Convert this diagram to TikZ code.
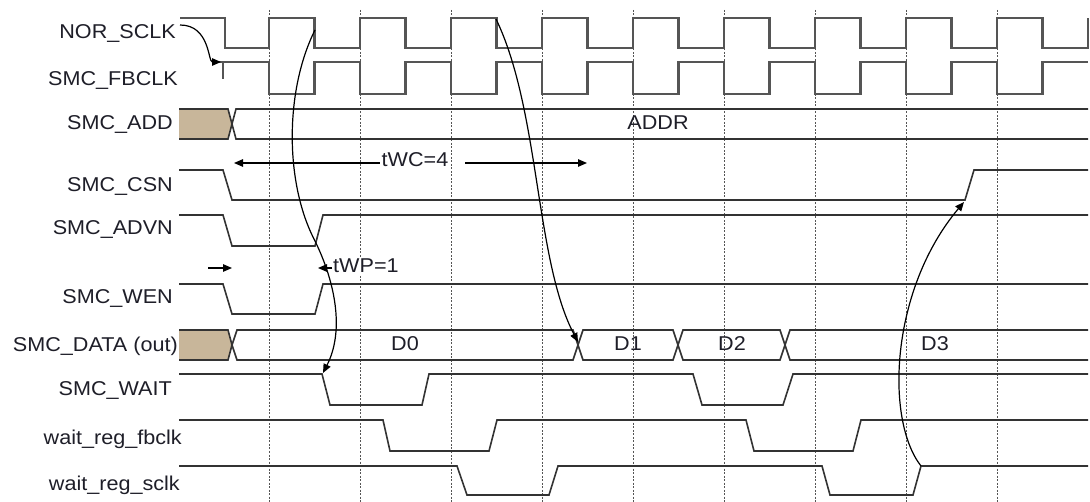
\documentclass[tikz,border=0pt]{standalone}
\usepackage{fontspec}
\newfontfamily\wavefont{Liberation Sans}[FakeStretch=1.08]
\usepackage{xcolor}
\usepackage{tikz}
\usetikzlibrary{arrows.meta,calc}
\definecolor{WaveGray}{HTML}{333333}
\definecolor{ClockGray}{HTML}{555555}
\definecolor{GridGray}{HTML}{555555}
\definecolor{InvalidTan}{HTML}{C8B69A}
\definecolor{LabelInk}{HTML}{1E1E28}
\tikzset{
  % Signal names
  SN/.style={anchor=base east,inner sep=0pt,text=LabelInk,
             font=\wavefont\fontsize{20}{22}\selectfont},
  % Bus values
  BV/.style={anchor=base,inner sep=0pt,text=LabelInk,
             font=\wavefont\fontsize{20}{22}\selectfont},
  % Timing notes
  TN/.style={inner sep=1.5pt,fill=white,text=LabelInk,
             font=\wavefont\fontsize{20}{22}\selectfont},
  % Waveforms
  wv/.style={line width=1.6pt,draw=WaveGray},
  ck/.style={line width=2.4pt,draw=ClockGray},
  cyc/.style={line width=0.9pt,draw=GridGray,dash pattern=on 2pt off 1.5pt},
  % Arrow
  arr/.style={-{Triangle[length=9pt,width=7.5pt]},line width=1.2pt,draw=black}
}

\begin{document}
\begin{tikzpicture}[x=1pt,y=-1pt]
  \useasboundingbox (0,0) rectangle (1090,502);
  % cycle grid
  \foreach \x in {269,360,...,997}
    \draw[cyc] (\x,10) -- (\x,502);
  % clocks
  \draw[ck] (180,18) -- (225,18) -- (225,48) -- (269,48)
    \foreach \x in {269,360,...,997}{ -- (\x,18) -- (\x+45.5,18) -- (\x+45.5,48) -- (\x+91,48)} -- (1088,18);
  \draw[ck] (213,62)
    \foreach \x in {269,360,...,997}{ -- (\x,62) -- (\x,94) -- (\x+45.5,94) -- (\x+45.5,62)} -- (1088,62);
  \draw[ck,line width=1.4pt] (223,62) -- (223,79);
  % address bus
  \fill[InvalidTan] (179,109) -- (228,109) -- (232,124) -- (228,139) -- (179,139) -- cycle;
  \draw[wv] (179,109) -- (228,109) -- (232,124) -- (228,139) -- (179,139);
  \draw[wv] (1088,109) -- (236,109) -- (232,124) -- (236,139) -- (1088,139);
  % control lines
  \draw[wv] (179,170) -- (223,170) -- (232,200) -- (965,200) -- (974,170) -- (1088,170);
  \draw[wv] (179,215) -- (223,215) -- (232,246) -- (315,246) -- (323,215) -- (1088,215);
  \draw[wv] (179,284) -- (223,284) -- (232,314) -- (315,314) -- (323,284) -- (1088,284);
  % data bus
  \fill[InvalidTan] (179,330) -- (228,330) -- (232,345) -- (228,360) -- (179,360) -- cycle;
  \draw[wv] (179,330) -- (228,330) -- (232,345) -- (228,360) -- (179,360);
  \foreach \a/\b in {232/578,578/678,678/785}
    \draw[wv] (\a+5,330) -- (\b-5,330) -- (\b,345) -- (\b-5,360) -- (\a+5,360) -- (\a,345) -- cycle;
  \draw[wv] (1088,330) -- (790,330) -- (785,345) -- (790,360) -- (1088,360);
  % wait lines
  \draw[wv] (179,374) -- (322,374) -- (330,405) -- (422,405) -- (429,374) -- (693,374)
    -- (702,405) -- (783,405) -- (793,374) -- (1088,374);
  \draw[wv] (179,420) -- (383,420) -- (390,451) -- (489,451) -- (497,420) -- (746,420)
    -- (754,451) -- (853,451) -- (861,420) -- (1088,420);
  \draw[wv] (179,466) -- (457,466) -- (467,495) -- (549,495) -- (558,466) -- (822,466)
    -- (830,495) -- (913,495) -- (921,466) -- (1088,466);
  % signal names
  \node[SN] (norsclk) at (176,39) {NOR\_SCLK};
  \node[SN] (fbclk) at (178,86) {SMC\_FBCLK};
  \node[SN] (smcadd) at (173,130) {SMC\_ADD};
  \node[SN] (smccsn) at (173,192) {SMC\_CSN};
  \node[SN] (smcadvn) at (173,235) {SMC\_ADVN};
  \node[SN] (smcwen) at (173,304) {SMC\_WEN};
  \node[SN] (smcdata) at (178,352) {SMC\_DATA (out)};
  \node[SN] (smcwait) at (172,396) {SMC\_WAIT};
  \node[SN] (regfb) at (182,445) {wait\_reg\_fbclk};
  \node[SN] (regsclk) at (180,490) {wait\_reg\_sclk};
  % bus values
  \node[BV] (addr) at (658,130) {ADDR};
  \node[BV] (d0) at (405,351) {D0};
  \node[BV] (d1) at (628,351) {D1};
  \node[BV] (d2) at (732,351) {D2};
  \node[BV] (d3) at (935,351) {D3};
  % timing notes
  \coordinate (twcL) at (234,163);
  \coordinate (twcS) at (465,163);
  \coordinate (twcR) at (587,163);
  \node[TN,anchor=base] (twc) at (415,167) {tWC=4};
  \draw[arr] (twc.west |- twcL) -- (twcL);
  \draw[arr] (twcS) -- (twcR);
  \coordinate (twpA) at (208,268);
  \coordinate (twpB) at (232,268);
  \coordinate (twpC) at (318,268);
  \node[TN,anchor=base west,inner sep=1pt] (twp) at (332,273) {tWP=1};
  \draw[arr] (twpA) -- (twpB);
  \draw[arr] (twp.west |- twpC) -- (twpC);
  % edge dependencies
  \coordinate (sclkTag) at (180,25);
  \coordinate (fbStart) at (221,62);
  \coordinate (sclkF1) at (315,30);
  \coordinate (waitF) at (323,373);
  \coordinate (sclkF3) at (496,19);
  \coordinate (dataX) at (578,342);
  \coordinate (regR) at (921,466);
  \coordinate (csnR) at (964,202);
  \draw[arr] (sclkTag) .. controls (210,25) and (208,62) .. (fbStart);
  \draw[arr] (sclkF1) .. controls (285,90) and (285,180) .. (313,237)
    .. controls (335,280) and (345,330) .. (waitF);
  \draw[arr] (sclkF3) .. controls (540,110) and (535,260) .. (dataX);
  \draw[arr] (regR) .. controls (885,420) and (890,290) .. (csnR);
\end{tikzpicture}
\end{document}
